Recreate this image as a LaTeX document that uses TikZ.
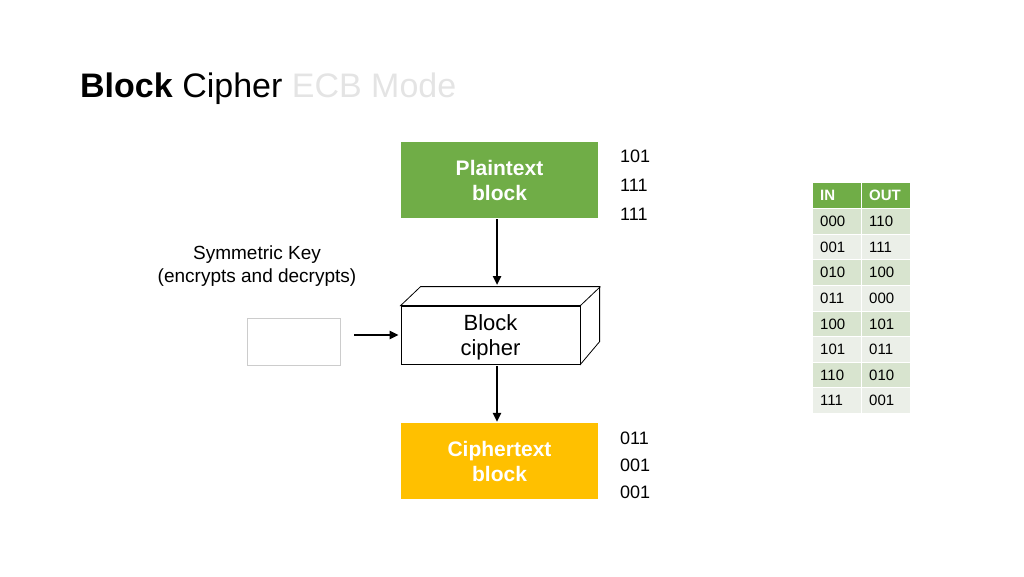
\documentclass[tikz,border=0pt]{standalone}
\usepackage{fontspec}
\setmainfont{Liberation Sans}
\usetikzlibrary{arrows.meta,calc}
\definecolor{pgreen}{HTML}{70AD47}
\definecolor{cyel}{HTML}{FFC000}
\definecolor{rowa}{HTML}{D8E4CF}
\definecolor{rowb}{HTML}{EBEFE8}
\definecolor{titlegray}{HTML}{E4E4E4}
\tikzset{
  colbox/.style={minimum width=197pt,minimum height=76pt,inner sep=0pt,text=white,font=\fontsize{21}{25}\selectfont\bfseries,align=center},
  numtxt/.style={anchor=west,inner sep=0pt,font=\fontsize{18}{20}\selectfont},
  flow/.style={line width=2.6pt,-{Triangle[length=9pt,width=8pt]}},
  cell/.style={minimum width=48pt,minimum height=24.5pt,inner sep=0pt,anchor=north west,text width=34pt,align=left,font=\fontsize{15}{17}\selectfont},
  hcell/.style={cell,fill=pgreen,text=white,font=\fontsize{15}{17}\selectfont\bfseries}
}
\begin{document}
\begin{tikzpicture}[x=1pt,y=-1pt]
\useasboundingbox (0,0) rectangle (1024,576);
% title
\node[anchor=base west,inner sep=0pt,font=\fontsize{34}{40}\selectfont] (title) at (80,97)
  {\textbf{Block} Cipher \textcolor{titlegray}{ECB Mode}};
% plaintext
\node[colbox,fill=pgreen] (pt) at (499.5,180) {Plaintext\\block};
\node[numtxt] (p1) at (620,156) {101};
\node[numtxt] (p2) at (620,185) {111};
\node[numtxt] (p3) at (620,214) {111};
% block cipher 3D
\node[draw,line width=0.8pt,minimum width=179pt,minimum height=58pt,inner sep=0pt] (bc) at (490.5,335) {};
\node[align=center,inner sep=0pt,font=\fontsize{22}{25}\selectfont] (bct) at (490.5,337) {Block\\cipher};
\draw[line width=0.8pt,fill=white] (bc.north west) -- ++(20,-19) -- ++(179,0) -- ++(0,55) -- (bc.south east) -- (bc.north east) -- cycle;
\draw[line width=0.8pt] (bc.north east) -- ++(20,-19);
\coordinate (top) at (497,285);
% key
\node[align=center,font=\fontsize{19}{23}\selectfont] (sk) at (257,266) {Symmetric Key\\(encrypts and decrypts)};
\node[draw=black!20,line width=0.6pt,minimum width=93pt,minimum height=47pt,inner sep=0pt] (key) at (293.5,341.5) {};
% ciphertext
\node[colbox,fill=cyel] (ct) at (499.5,461) {Ciphertext\\block};
\node[numtxt] (c1) at (620,438) {011};
\node[numtxt] (c2) at (620,465) {001};
\node[numtxt] (c3) at (620,492) {001};
% arrows
\draw[flow] ($(pt.south -| top)+(0,1)$) -- (top);
\draw[flow,shorten <=14pt,shorten >=2pt] (key.east |- bc.west) -- (bc.west);
\draw[flow] ($(bc.south -| top)+(0,2)$) -- ($(ct.north -| top)+(0,-1)$);
% table
\node[hcell] (h1) at (813,183) {IN};
\node[hcell] (h2) at (862,183) {OUT};
\foreach \i/\a/\b in {0/000/110,1/001/111,2/010/100,3/011/000,4/100/101,5/101/011,6/110/010,7/111/001}{
  \pgfmathtruncatemacro{\odd}{mod(\i,2)}
  \ifnum\odd=0 \def\rc{rowa}\else\def\rc{rowb}\fi
  \node[cell,fill=\rc] (a\i) at (813,{209+25.6*\i}) {\a};
  \node[cell,fill=\rc] (b\i) at (862,{209+25.6*\i}) {\b};
}
\end{tikzpicture}
\end{document}
